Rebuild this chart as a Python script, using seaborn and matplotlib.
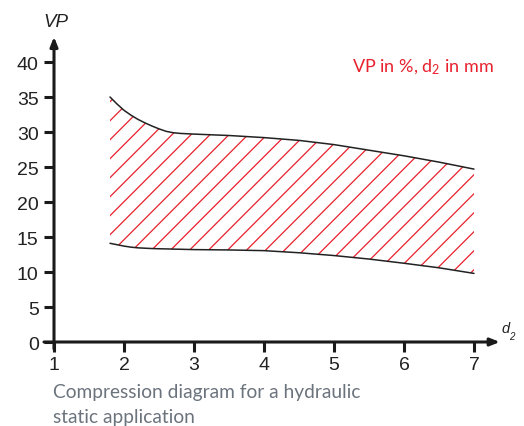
import numpy as np
import pandas as pd
import matplotlib
matplotlib.use("Agg")
import matplotlib.pyplot as plt
import seaborn as sns

# ---- data ----
d2 = [1.8, 1.9, 2.0, 2.1, 2.2, 2.3, 2.4, 2.5, 2.6, 2.7, 2.8, 3.0, 3.5, 4.0, 4.5, 5.0, 5.5, 6.0, 6.5, 7.0]
vp_upper = [35.0, 34.0, 33.1, 32.4, 31.8, 31.3, 30.85, 30.45, 30.1, 29.9, 29.8, 29.7, 29.5, 29.2, 28.8, 28.2, 27.4, 26.6, 25.7, 24.7]
vp_lower = [14.1, 13.9, 13.7, 13.55, 13.45, 13.4, 13.35, 13.32, 13.3, 13.27, 13.25, 13.2, 13.15, 13.05, 12.75, 12.35, 11.85, 11.25, 10.6, 9.8]
x_ticks = [1, 2, 3, 4, 5, 6, 7]
y_ticks = [0, 5, 10, 15, 20, 25, 30, 35, 40]
note_text = "VP in %, d$_{2}$ in mm"
caption_lines = ["Compression diagram for a hydraulic", "static application"]

df = pd.DataFrame({"d2": d2, "upper": vp_upper, "lower": vp_lower})

sns.set_style("white")
plt.rcParams["font.family"] = ["Liberation Sans", "DejaVu Sans"]
plt.rcParams["mathtext.fontset"] = "custom"
plt.rcParams["mathtext.rm"] = "Lato"
plt.rcParams["mathtext.it"] = "Lato:italic"

DPI = 100
fig = plt.figure(figsize=(5.24, 4.27), dpi=DPI)
ax = fig.add_axes([0.07634, 0.17213, 0.8950, 0.74590])

axis_color = "#1a1a1a"
red = "#e8212e"

# hatched band
poly = ax.fill_between(df["d2"], df["lower"], df["upper"], facecolor="none", edgecolor="none")
clip_path = poly.get_paths()[0]
for k in range(-10, 45):
    xs = np.array([1.5, 7.5])
    ys = 10 * (xs - 1) - (5.7 + 19 * k) / 7
    ln, = ax.plot(xs, ys, color=red, lw=0.9, solid_capstyle="butt")
    ln.set_clip_path(clip_path, poly.get_transform())

sns.lineplot(data=df, x="d2", y="upper", ax=ax, color="#222222", lw=1.1)
sns.lineplot(data=df, x="d2", y="lower", ax=ax, color="#222222", lw=1.1)

ax.set_xlim(0.8, 7.5)
ax.set_ylim(-1.5, 44)
ax.set_xlabel("")
ax.set_ylabel("")

for s in ["top", "right"]:
    ax.spines[s].set_visible(False)
ax.spines["left"].set_position(("data", 1))
ax.spines["bottom"].set_position(("data", 0))
ax.spines["left"].set_visible(False)
ax.spines["bottom"].set_visible(False)

ax.set_xticks(x_ticks)
ax.set_yticks(y_ticks)
ax.set_xticklabels([str(v) for v in x_ticks])
ax.set_yticklabels([str(v) for v in y_ticks])
ax.tick_params(axis="both", direction="out", length=7, width=2.2, color=axis_color,
               labelsize=14, labelcolor="#222222")
ax.tick_params(axis="x", pad=3.0)
ax.tick_params(axis="y", pad=4.0)
ax.tick_params(left=True, bottom=True)

arrow_kw = dict(arrowstyle="-|>,head_length=0.55,head_width=0.22", lw=2.2,
                color=axis_color, shrinkA=0, shrinkB=0)
ax.annotate("", xy=(7.37, 0), xytext=(0.857, 0), arrowprops=arrow_kw, annotation_clip=False)
ax.annotate("", xy=(1, 43.6), xytext=(1, -1.0), arrowprops=arrow_kw, annotation_clip=False)

# axis names
fig.text(56 / 524, 1 - 27 / 427, "VP", fontsize=13.5, style="italic", ha="center",
         va="baseline", color="#222222")
fig.text(501 / 524, 1 - 333 / 427, "d", fontsize=10.5, style="italic", ha="left",
         va="baseline", color="#222222")
fig.text(509 / 524, 1 - 340 / 427, "2", fontsize=7, style="italic", ha="left",
         va="baseline", color="#222222")

# red note
fig.text(352 / 524, 1 - 72 / 427, note_text, fontsize=13, family="Lato", color=red,
         ha="left", va="baseline")

# caption
for i, line in enumerate(caption_lines):
    fig.text(53 / 524, 1 - (398 + 25 * i) / 427, line, fontsize=13.8, family="Lato",
             color="#6b737d", ha="left", va="baseline")

fig.savefig("out.png", dpi=DPI)
